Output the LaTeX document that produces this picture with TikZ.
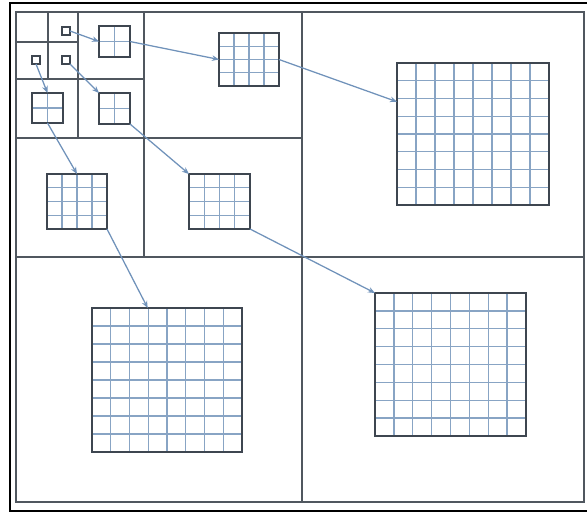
\documentclass[tikz,border=0pt]{standalone}
\usepackage{tikz}
\usetikzlibrary{arrows.meta, calc}

\definecolor{framegray}{HTML}{50575F}
\definecolor{boxgray}{HTML}{3E4650}
\definecolor{meshblue}{HTML}{88A4C4}
\definecolor{linkblue}{HTML}{7092BA}
\newcommand{\px}{0.025cm}

\begin{document}
\begin{tikzpicture}[
    x=0.025cm, y=-0.025cm,
    divline/.style={draw=framegray, line width=1.4pt},
    meshline/.style={draw=meshblue, line width=0.9pt},
    cells/.style={draw=boxgray, fill=white, line width=1.9pt, inner sep=0pt, outer sep=0pt,
        path picture={
            \foreach \k in {1,...,#1}{
                \draw[meshline] ($(path picture bounding box.south west)!\k/#1!(path picture bounding box.south east)$)
                    -- ($(path picture bounding box.north west)!\k/#1!(path picture bounding box.north east)$);
                \draw[meshline] ($(path picture bounding box.south west)!\k/#1!(path picture bounding box.north west)$)
                    -- ($(path picture bounding box.south east)!\k/#1!(path picture bounding box.north east)$);
            }}},
    tinybox/.style={draw=boxgray, fill=white, line width=1.5pt, inner sep=0pt, outer sep=0pt, minimum size=8*\px},
    link/.style={-{Stealth[length=5pt, width=4pt]}, draw=linkblue, line width=0.9pt}
]
\useasboundingbox (0,0) rectangle (587,515);

% Frame and quadtree split
\draw[line width=2pt, black] (587,3) -- (10,3) -- (10,511) -- (587,511);
\draw[divline] (16,12) rectangle (584,502);
\foreach \mx/\my/\rx/\by in {302/257/584/502, 144/138/302/257, 78/79/144/138, 48/42/78/79}
    \draw[divline] (\mx,12) -- (\mx,\by) (16,\my) -- (\rx,\my);

% Nodes
\node[tinybox] (s1) at (66,31) {};
\node[tinybox] (s2) at (36,60) {};
\node[tinybox] (s3) at (66,60) {};

\node[cells=2, minimum width=31*\px, minimum height=31*\px] (m1) at (114.5,41.5) {};
\node[cells=2, minimum width=31*\px, minimum height=30*\px] (m2) at (47.5,108) {};
\node[cells=2, minimum width=31*\px, minimum height=31*\px] (m3) at (114.5,108.5) {};

\node[cells=4, minimum width=60*\px, minimum height=53*\px] (q1) at (249,59.5) {};
\node[cells=4, minimum width=60*\px, minimum height=55*\px] (q2) at (77,201.5) {};
\node[cells=4, minimum width=61*\px, minimum height=55*\px] (q3) at (219.5,201.5) {};

\node[cells=8, minimum width=152*\px, minimum height=142*\px] (b1) at (473,134) {};
\node[cells=8, minimum width=150*\px, minimum height=144*\px] (b2) at (167,380) {};
\node[cells=8, minimum width=151*\px, minimum height=143*\px] (b3) at (450.5,364.5) {};

% Paths
\draw[link] (s1.east) -- (m1.west);
\draw[link] (m1.east) -- (q1.west);
\draw[link] (q1.east) -- (b1.157);

\draw[link] (s2.south) -- (m2.north);
\draw[link] (m2.south) -- (q2.north);
\draw[link] (q2.south east) -- (b2.105);

\draw[link] (s3.south east) -- (m3.north west);
\draw[link] (m3.south east) -- (q3.north west);
\draw[link] (q3.south east) -- (b3.north west);
\end{tikzpicture}
\end{document}
